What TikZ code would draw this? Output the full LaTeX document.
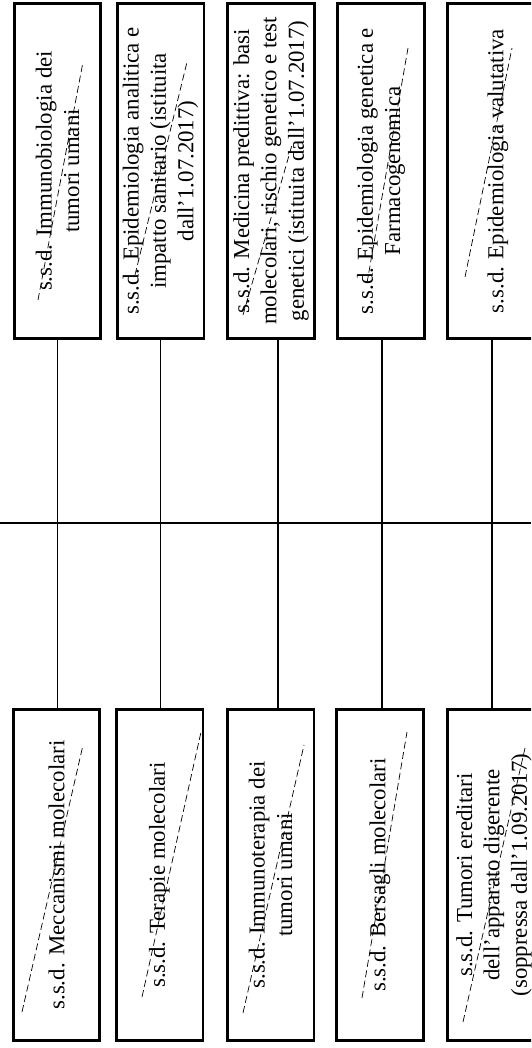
\documentclass[tikz,border=0pt]{standalone}
\usepackage{fontspec}
\setmainfont{Liberation Serif}

\begin{document}
\begin{tikzpicture}[
    x=0.02cm,
    y=-0.02cm,
    line cap=butt,
    every node/.style={font=\fontsize{13}{15.6}\selectfont},
    unitbox/.style={draw, line width=1.7pt, rotate=90, align=center,
                    inner sep=0pt, minimum height=1.74cm},
    toprow/.style={unitbox, minimum width=6.7cm},
    botrow/.style={unitbox, minimum width=6.62cm},
    link/.style={line width=0.9pt},
    strikeline/.style={dash pattern=on 4pt off 2pt, line width=0.4pt}
]

% Frame of the cut-out
\useasboundingbox (0,0) rectangle (531,1048);
\clip (0,0) rectangle (531,1048);

% Upper units
\node[toprow] (t1) at (57.5,171) {s.s.d. Immunobiologia dei\\tumori umani};
\node[toprow] (t2) at (160.5,171) {s.s.d. Epidemiologia analitica e\\impatto sanitario (istituita\\dall'1.07.2017)};
\node[toprow] (t3) at (271,171) {s.s.d. Medicina predittiva: basi\\molecolari, rischio genetico e test\\genetici (istituita dall'1.07.2017)};
\node[toprow] (t4) at (381,171) {s.s.d. Epidemiologia genetica e\\Farmacogenomica};
\node[toprow, minimum height=2.04cm] (t5) at (498,171) {s.s.d. Epidemiologia valutativa};

% Lower units
\node[botrow] (b1) at (56.5,875) {s.s.d. Meccanismi molecolari};
\node[botrow] (b2) at (159.5,875) {s.s.d. Terapie molecolari};
\node[botrow] (b3) at (270.5,875) {s.s.d. Immunoterapia dei\\tumori umani};
\node[botrow] (b4) at (380,875) {s.s.d. Bersagli molecolari};
\node[botrow, minimum height=2.04cm] (b5) at (498,875) {};
\node[rotate=90, align=center] (b5text) at (494,875) {s.s.d. Tumori ereditari\\dell'apparato digerente\\(soppressa dall'1.09.2017)};

% Horizontal bar
\coordinate (barL) at (0,523);
\coordinate (barR) at (531,523);
\draw[link] (barL) -- (barR);

% Vertical links through the bar
\foreach \i/\dx in {1/0,2/0,3/7,4/1,5/-6}{
    \draw[link] ([xshift=\dx*0.02cm]t\i.west) -- ([xshift=\dx*0.02cm]t\i.west |- b\i.east);
}

% Strike-through marks
\draw[strikeline] (38,300) -- (83,62);
\draw[strikeline] (135,275) -- (187,62);
\draw[strikeline] (243,315) -- (292,145);
\draw[strikeline] (367,283) -- (408,48);
\draw[strikeline] (465,277) -- (512,48);
\draw[strikeline] (22,1012) -- (83,745);
\draw[strikeline] (142,997) -- (201,732);
\draw[strikeline] (243,1013) -- (304,745);
\draw[strikeline] (362,998) -- (407,732);
\draw[strikeline] (463,1022) -- (525,748);

\end{tikzpicture}
\end{document}
